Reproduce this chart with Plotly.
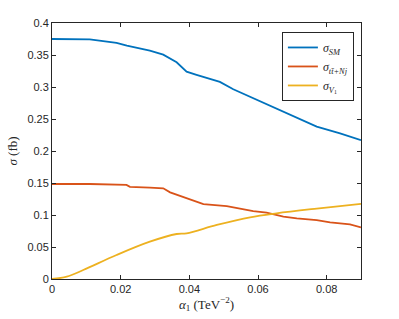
import plotly.graph_objects as go

alpha_sm = [0, 0.011, 0.0188, 0.0218, 0.0285, 0.0324, 0.0363, 0.0392, 0.0421, 0.0489, 0.0528, 0.0596, 0.0654, 0.0713, 0.0771, 0.0839, 0.09]
sigma_sm = [0.375, 0.3745, 0.369, 0.3646, 0.3567, 0.3505, 0.3386, 0.324, 0.319, 0.308, 0.2964, 0.2797, 0.2667, 0.251, 0.238, 0.2277, 0.217]

alpha_tt = [0, 0.011, 0.0217, 0.0227, 0.0285, 0.0324, 0.0344, 0.0373, 0.0402, 0.0441, 0.0509, 0.0557, 0.0586, 0.0625, 0.0674, 0.0713, 0.0771, 0.081, 0.0868, 0.09]
sigma_tt = [0.1484, 0.1484, 0.147, 0.144, 0.1427, 0.1417, 0.1354, 0.130, 0.1234, 0.117, 0.114, 0.1094, 0.106, 0.1036, 0.0974, 0.0948, 0.092, 0.0885, 0.0854, 0.0807]

alpha_v = [0, 0.0043, 0.0091, 0.0188, 0.0285, 0.0363, 0.0392, 0.048, 0.0577, 0.0654, 0.0771, 0.09]
sigma_v = [0, 0.0036, 0.014, 0.0375, 0.0583, 0.0703, 0.0714, 0.0844, 0.0964, 0.1026, 0.110, 0.1175]

x_ticks = [0, 0.02, 0.04, 0.06, 0.08]
x_ticklabels = ["0", "0.02", "0.04", "0.06", "0.08"]
y_ticks = [0, 0.05, 0.1, 0.15, 0.2, 0.25, 0.3, 0.35, 0.4]
y_ticklabels = ["0", "0.05", "0.1", "0.15", "0.2", "0.25", "0.3", "0.35", "0.4"]

serif = "Liberation Serif, Times New Roman, serif"
sans = "Liberation Sans, Arial, sans-serif"

fig = go.Figure()
fig.add_trace(go.Scatter(x=alpha_sm, y=sigma_sm, mode="lines", line=dict(color="#0072BD", width=1.8),
                         name="<i>σ</i><sub><i>SM</i></sub>"))
fig.add_trace(go.Scatter(x=alpha_tt, y=sigma_tt, mode="lines", line=dict(color="#D95319", width=1.8),
                         name="<i>σ</i><sub><i>tt̄+Nj</i></sub>"))
fig.add_trace(go.Scatter(x=alpha_v, y=sigma_v, mode="lines", line=dict(color="#EDB120", width=1.8, shape="spline"),
                         name="<i>σ</i><sub><i>V</i><sub>1</sub></sub>"))

axis_common = dict(showline=True, linecolor="#262626", linewidth=1, mirror="ticks", ticks="inside",
                   ticklen=4, tickcolor="#262626", showgrid=False, zeroline=False,
                   tickfont=dict(family=sans, size=11, color="#262626"))

fig.update_layout(
    width=399, height=319,
    margin=dict(l=52, r=38, t=23, b=40),
    plot_bgcolor="white", paper_bgcolor="white",
    showlegend=True,
    legend=dict(x=0.744, y=0.965, xanchor="left", yanchor="top", bgcolor="white",
                bordercolor="#262626", borderwidth=1, font=dict(family=serif, size=12, color="#262626"),
                tracegroupgap=0, itemwidth=30),
    xaxis=dict(range=[0, 0.09], tickvals=x_ticks, ticktext=x_ticklabels,
               title=dict(text="<i>α</i><sub>1</sub> (TeV<sup>−2</sup>)", font=dict(family=serif, size=13, color="#262626"), standoff=3),
               **axis_common),
    yaxis=dict(range=[0, 0.4], tickvals=y_ticks, ticktext=y_ticklabels,
               title=dict(text="<i>σ</i> (fb)", font=dict(family=serif, size=13, color="#262626"), standoff=6),
               **axis_common),
)

fig.write_html("out.html", config={"displayModeBar": False},
               post_script="document.body.style.margin='0px';")
